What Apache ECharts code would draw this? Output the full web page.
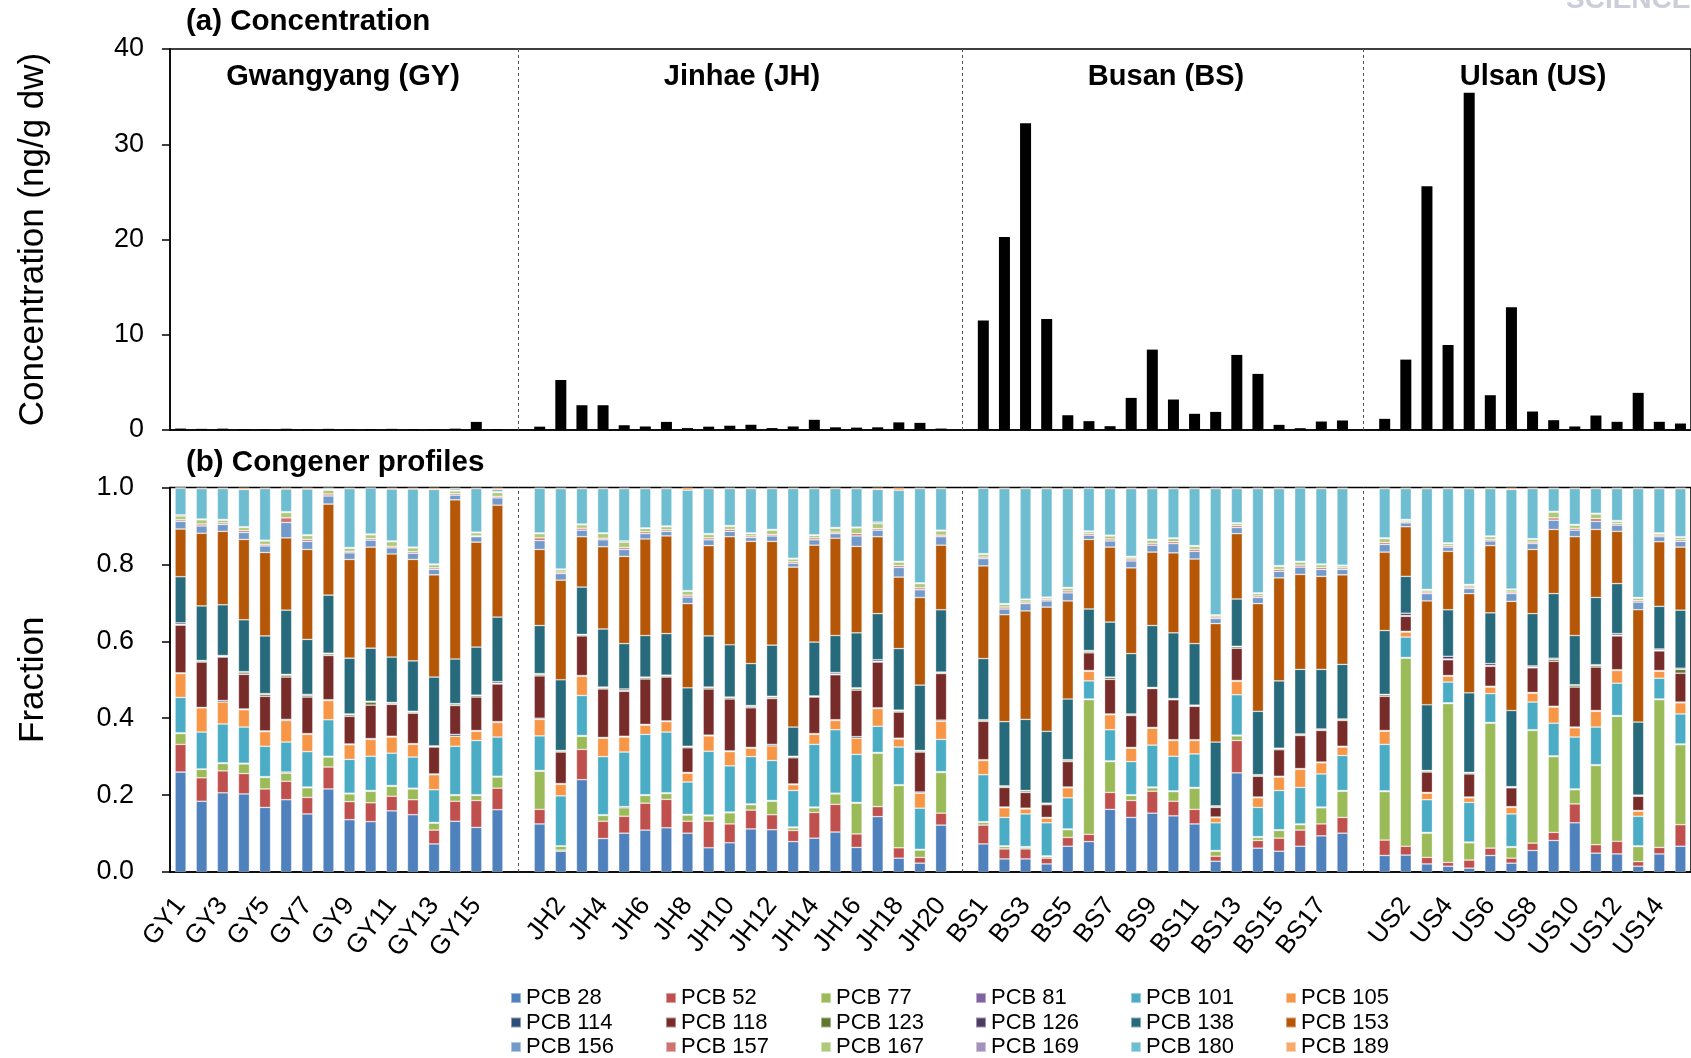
<!DOCTYPE html>
<html>
<head>
<meta charset="utf-8">
<script src="https://cdn.jsdelivr.net/npm/echarts@6/dist/echarts.min.js"></script>
<style>
html,body{margin:0;padding:0;background:#fff;}
#chart{width:1691px;height:1058px;}
</style>
</head>
<body>
<div id="chart"></div>
<script>
// ---- Site names ----
const sitesGY = ['GY1','GY2','GY3','GY4','GY5','GY6','GY7','GY8','GY9','GY10','GY11','GY12','GY13','GY14','GY15','GY16'];
const sitesJH = ['JH1','JH2','JH3','JH4','JH5','JH6','JH7','JH8','JH9','JH10','JH11','JH12','JH13','JH14','JH15','JH16','JH17','JH18','JH19','JH20'];
const sitesBS = ['BS1','BS2','BS3','BS4','BS5','BS6','BS7','BS8','BS9','BS10','BS11','BS12','BS13','BS14','BS15','BS16','BS17','BS18'];
const sitesUS = ['US1','US2','US3','US4','US5','US6','US7','US8','US9','US10','US11','US12','US13','US14','US15'];

// ---- (a) total concentration, ng/g dw ----
const concGY = [0.15,0.12,0.14,0.10,0.10,0.13,0.10,0.12,0.10,0.10,0.12,0.10,0.10,0.14,0.85,0.10];
const concJH = [0.35,5.25,2.6,2.6,0.5,0.37,0.85,0.2,0.35,0.45,0.55,0.2,0.37,1.07,0.28,0.25,0.28,0.8,0.75,0.15];
const concBS = [11.5,20.25,32.2,11.65,1.55,0.93,0.4,3.37,8.44,3.2,1.7,1.9,7.88,5.89,0.54,0.19,0.89,1.0];
const concUS = [1.17,7.39,25.6,8.93,35.4,3.65,12.9,1.94,1.03,0.37,1.52,0.86,3.9,0.86,0.68];

// ---- (b) congener fractions, one row per site, columns in congener order ----
const congeners = ['PCB 28','PCB 52','PCB 77','PCB 81','PCB 101','PCB 105','PCB 114','PCB 118','PCB 123','PCB 126','PCB 138','PCB 153','PCB 156','PCB 157','PCB 167','PCB 169','PCB 180','PCB 189'];
const congenerColors = ['#4F81BD','#C0504D','#9BBB59','#8064A2','#4BACC6','#F79646','#2C4D75','#772C2A','#5F7530','#4D3B62','#276A7C','#B65708','#729ACA','#CD7371','#AFC97A','#A491BC','#6FBDD1','#F9AB6B'];

const profileGY = [
 [.260,.072,.028,.002,.092,.062,.002,.124,.002,.004,.120,.124,.020,.004,.010,.003,.069,.003],
 [.184,.061,.022,.001,.096,.063,.001,.118,.003,.001,.142,.189,.019,.005,.011,.002,.079,.003],
 [.206,.057,.019,.002,.101,.057,.004,.113,.002,.002,.132,.191,.018,.004,.007,.002,.080,.003],
 [.203,.053,.025,.002,.094,.045,.002,.090,.004,.003,.135,.209,.018,.005,.008,.002,.097,.005],
 [.168,.048,.030,.002,.079,.038,.002,.090,.005,.002,.150,.217,.017,.004,.009,.002,.134,.003],
 [.188,.048,.021,.003,.078,.056,.003,.110,.005,.002,.167,.188,.040,.012,.014,.002,.059,.004],
 [.151,.043,.025,.002,.092,.045,.002,.095,.004,.003,.143,.234,.021,.005,.010,.002,.119,.004],
 [.216,.057,.026,.002,.095,.050,.002,.115,.004,.002,.151,.237,.021,.005,.010,.002,.003,.002],
 [.136,.047,.020,.002,.088,.038,.002,.072,.004,.002,.145,.257,.017,.004,.008,.002,.153,.003],
 [.131,.049,.030,.002,.089,.044,.002,.087,.008,.002,.138,.263,.018,.004,.010,.002,.120,.001],
 [.159,.038,.026,.002,.084,.042,.002,.083,.003,.002,.118,.268,.016,.004,.012,.002,.135,.004],
 [.149,.039,.028,.002,.081,.033,.002,.079,.003,.002,.131,.264,.016,.004,.010,.002,.151,.004],
 [.073,.036,.018,.002,.085,.039,.002,.070,.002,.001,.179,.266,.014,.004,.008,.002,.194,.005],
 [.132,.052,.015,.002,.126,.026,.005,.075,.004,.001,.116,.414,.012,.004,.007,.002,.004,.003],
 [.116,.070,.013,.002,.141,.024,.002,.087,.004,.001,.125,.273,.014,.002,.008,.002,.113,.003],
 [.162,.056,.029,.002,.102,.038,.002,.098,.002,.004,.168,.291,.019,.004,.010,.002,.006,.005]
];
const profileJH = [
 [.125,.038,.099,.002,.090,.043,.003,.110,.004,.002,.125,.198,.023,.007,.011,.002,.116,.002],
 [.054,.003,.010,.001,.130,.030,.002,.082,.003,.001,.184,.259,.017,.004,.006,.002,.209,.003],
 [.240,.079,.034,.002,.104,.050,.002,.103,.003,.001,.123,.131,.017,.005,.009,.002,.092,.003],
 [.087,.045,.015,.002,.151,.048,.002,.126,.003,.002,.151,.214,.018,.004,.012,.002,.115,.003],
 [.101,.044,.022,.003,.142,.039,.002,.117,.002,.004,.118,.227,.018,.005,.014,.003,.136,.003],
 [.109,.070,.020,.002,.157,.024,.002,.118,.004,.001,.108,.251,.014,.005,.008,.002,.102,.003],
 [.115,.074,.015,.002,.158,.027,.002,.114,.003,.002,.108,.254,.012,.004,.008,.002,.097,.003],
 [.101,.031,.016,.002,.084,.023,.002,.064,.003,.001,.152,.219,.017,.005,.010,.002,.261,.007],
 [.063,.069,.014,.002,.166,.040,.002,.120,.004,.001,.133,.235,.015,.005,.009,.002,.117,.003],
 [.076,.049,.029,.002,.120,.037,.002,.135,.004,.001,.136,.281,.014,.005,.008,.002,.096,.003],
 [.112,.049,.014,.002,.123,.022,.002,.103,.004,.002,.109,.318,.010,.004,.006,.002,.115,.003],
 [.110,.039,.035,.002,.104,.038,.004,.119,.004,.002,.133,.270,.014,.004,.011,.002,.106,.003],
 [.079,.029,.007,.002,.095,.015,.002,.068,.003,.001,.076,.416,.010,.004,.007,.002,.181,.003],
 [.088,.067,.012,.002,.163,.026,.002,.095,.002,.001,.140,.252,.014,.005,.006,.002,.120,.003],
 [.104,.072,.027,.002,.165,.024,.002,.117,.002,.004,.096,.253,.012,.004,.010,.002,.101,.003],
 [.064,.035,.080,.002,.125,.042,.004,.121,.004,.002,.143,.225,.027,.006,.015,.002,.100,.003],
 [.144,.026,.139,.002,.068,.046,.002,.119,.002,.004,.120,.200,.017,.004,.013,.004,.085,.005],
 [.036,.027,.162,.002,.098,.021,.002,.068,.003,.002,.160,.186,.025,.005,.009,.002,.185,.007],
 [.023,.015,.019,.002,.107,.039,.003,.104,.003,.001,.170,.228,.020,.005,.011,.002,.245,.003],
 [.122,.031,.106,.002,.084,.047,.003,.121,.003,.001,.162,.168,.022,.004,.011,.002,.108,.003]
];
const profileBS = [
 [.073,.049,.007,.002,.122,.037,.002,.100,.003,.001,.159,.241,.019,.004,.007,.002,.170,.002],
 [.034,.026,.006,.002,.074,.025,.002,.051,.003,.001,.167,.278,.015,.005,.007,.002,.299,.003],
 [.034,.026,.004,.002,.085,.013,.002,.041,.004,.001,.185,.282,.019,.004,.006,.002,.287,.003],
 [.021,.015,.004,.002,.086,.012,.002,.033,.003,.001,.187,.323,.016,.004,.004,.002,.282,.003],
 [.067,.023,.020,.002,.081,.026,.002,.066,.004,.001,.158,.255,.021,.005,.007,.002,.257,.003],
 [.079,.019,.350,.002,.047,.025,.002,.046,.004,.002,.108,.181,.011,.004,.005,.002,.111,.002],
 [.163,.044,.080,.002,.081,.039,.002,.090,.005,.001,.143,.195,.016,.005,.008,.002,.121,.003],
 [.142,.044,.013,.002,.086,.035,.002,.083,.003,.001,.157,.223,.018,.005,.005,.002,.176,.003],
 [.153,.057,.009,.002,.109,.044,.002,.101,.002,.001,.161,.191,.018,.005,.008,.002,.132,.003],
 [.146,.038,.025,.002,.090,.041,.002,.104,.002,.001,.171,.208,.024,.005,.008,.002,.128,.003],
 [.125,.038,.055,.002,.087,.035,.002,.087,.002,.001,.160,.220,.020,.005,.008,.002,.148,.003],
 [.028,.013,.013,.002,.072,.013,.002,.025,.003,.001,.166,.308,.013,.004,.004,.002,.328,.003],
 [.258,.084,.012,.002,.105,.035,.002,.084,.004,.001,.123,.170,.016,.005,.005,.002,.089,.003],
 [.062,.020,.008,.002,.076,.025,.002,.054,.003,.001,.165,.280,.016,.004,.006,.002,.271,.003],
 [.054,.034,.020,.002,.102,.035,.002,.069,.003,.001,.175,.268,.017,.005,.008,.002,.200,.003],
 [.067,.042,.014,.002,.095,.047,.002,.086,.003,.001,.168,.247,.019,.005,.008,.002,.191,.001],
 [.094,.031,.042,.002,.086,.029,.002,.082,.003,.001,.155,.242,.018,.005,.007,.002,.196,.003],
 [.101,.041,.068,.002,.091,.022,.002,.067,.003,.001,.142,.233,.014,.004,.005,.002,.199,.003]
];
const profileUS = [
 [.043,.040,.126,.002,.121,.034,.002,.089,.004,.001,.166,.204,.020,.005,.010,.002,.128,.003],
 [.044,.023,.489,.002,.053,.013,.002,.039,.002,.006,.096,.129,.010,.003,.004,.002,.080,.003],
 [.021,.017,.063,.002,.085,.017,.002,.053,.003,.001,.171,.270,.019,.004,.005,.002,.262,.003],
 [.015,.010,.413,.002,.054,.015,.002,.041,.002,.007,.121,.152,.011,.004,.005,.002,.141,.003],
 [.010,.021,.045,.002,.103,.012,.002,.060,.003,.001,.207,.258,.013,.004,.005,.002,.249,.003],
 [.043,.019,.325,.002,.075,.017,.002,.052,.002,.005,.132,.175,.012,.004,.007,.002,.123,.003],
 [.023,.013,.028,.002,.085,.017,.002,.049,.002,.001,.198,.284,.020,.004,.006,.002,.259,.005],
 [.056,.019,.293,.002,.072,.023,.002,.064,.002,.003,.136,.167,.015,.004,.007,.002,.130,.003],
 [.082,.021,.197,.002,.085,.042,.002,.117,.005,.003,.168,.167,.024,.006,.015,.002,.059,.003],
 [.128,.049,.037,.002,.135,.024,.002,.104,.005,.001,.128,.257,.017,.005,.008,.002,.093,.003],
 [.049,.022,.206,.002,.098,.041,.002,.113,.004,.002,.175,.177,.021,.007,.012,.002,.064,.003],
 [.047,.033,.325,.002,.084,.033,.002,.088,.002,.004,.130,.136,.016,.004,.006,.002,.083,.003],
 [.015,.012,.039,.002,.077,.013,.002,.037,.002,.001,.190,.292,.020,.004,.006,.002,.283,.003],
 [.047,.017,.384,.002,.054,.018,.002,.051,.002,.003,.111,.168,.013,.004,.004,.002,.115,.003],
 [.067,.056,.208,.002,.078,.029,.002,.075,.010,.003,.151,.164,.015,.004,.006,.002,.125,.003]
];

// ---- build category table with an empty slot between regions ----
const categories = [...sitesGY, ' ', ...sitesJH, '  ', ...sitesBS, '   ', ...sitesUS];
const gapIdx = [sitesGY.length, sitesGY.length + 1 + sitesJH.length, sitesGY.length + sitesJH.length + sitesBS.length + 2];
const concData = [...concGY, null, ...concJH, null, ...concBS, null, ...concUS];
function column(k) {
  const f = r => r[k];
  return [...profileGY.map(f), null, ...profileJH.map(f), null, ...profileBS.map(f), null, ...profileUS.map(f)];
}

const FONT = 'Liberation Sans, Arial, sans-serif';
const chart = echarts.init(document.getElementById('chart'), null, {renderer: 'canvas'});

const axisLineStyle = {color: '#000', width: 1.5};
const dashLine = {
  silent: true, symbol: ['none', 'none'], label: {show: false},
  lineStyle: {type: [3, 3], color: '#555', width: 1},
  data: gapIdx.map(i => ({xAxis: i}))
};

const profileSeries = congeners.map((name, k) => ({
  name: name, type: 'bar', stack: 'profile', xAxisIndex: 1, yAxisIndex: 1,
  barWidth: 11, data: column(k),
  itemStyle: {color: congenerColors[k], borderColor: 'rgba(255,255,255,0.45)', borderWidth: 0.7},
  markLine: k === 0 ? dashLine : undefined
}));

const legends = [0,1,2,3,4,5].map(i => ({
  orient: 'vertical', left: 510 + i * 155, top: 987, height: 90, padding: 0,
  icon: 'rect', itemWidth: 10, itemHeight: 10, itemGap: 2.5,
  data: [congeners[i], congeners[i + 6], congeners[i + 12]],
  textStyle: {fontSize: 22, fontFamily: FONT, color: '#000', lineHeight: 22}
}));

const option = {
  animation: false,
  backgroundColor: '#fff',
  legend: legends,
  grid: [
    {left: 170, top: 49, width: 1526, height: 381, show: true, borderColor: '#000', borderWidth: 1.5, backgroundColor: 'transparent'},
    {left: 170, top: 487.5, width: 1526, height: 384.5, show: true, borderColor: '#000', borderWidth: 1.5, backgroundColor: 'transparent'}
  ],
  xAxis: [
    {gridIndex: 0, type: 'category', data: categories, boundaryGap: true,
     axisLine: {lineStyle: axisLineStyle}, axisTick: {interval: 0, length: 6, lineStyle: axisLineStyle},
     axisLabel: {show: false}, splitLine: {show: false}},
    {gridIndex: 1, type: 'category', data: categories, boundaryGap: true,
     axisLine: {lineStyle: axisLineStyle}, axisTick: {interval: 0, length: 8, lineStyle: axisLineStyle},
     axisLabel: {interval: 1, rotate: 52, fontSize: 26, fontFamily: FONT, color: '#000', margin: 29},
     splitLine: {show: false}}
  ],
  yAxis: [
    {gridIndex: 0, type: 'value', min: 0, max: 40, interval: 10,
     name: 'Concentration (ng/g dw)', nameLocation: 'middle', nameGap: 119,
     nameTextStyle: {fontSize: 35, fontFamily: FONT, color: '#000'},
     axisLine: {show: true, lineStyle: axisLineStyle}, axisTick: {show: true, length: 8, lineStyle: axisLineStyle},
     axisLabel: {fontSize: 27, fontFamily: FONT, color: '#000', margin: 26}, splitLine: {show: false}},
    {gridIndex: 1, type: 'value', min: 0, max: 1, interval: 0.2,
     name: 'Fraction', nameLocation: 'middle', nameGap: 119,
     nameTextStyle: {fontSize: 35, fontFamily: FONT, color: '#000'},
     axisLine: {show: true, lineStyle: axisLineStyle}, axisTick: {show: true, length: 8, lineStyle: axisLineStyle},
     axisLabel: {fontSize: 27, fontFamily: FONT, color: '#000', margin: 36, formatter: v => v.toFixed(1)},
     splitLine: {show: false}}
  ],
  graphic: [
    {type: 'text', left: 186, top: 7, style: {text: '(a) Concentration', font: 'bold 29.5px ' + FONT, fill: '#000'}},
    {type: 'text', left: 186, top: 448, style: {text: '(b) Congener profiles', font: 'bold 29.5px ' + FONT, fill: '#000'}},
    {type: 'text', x: 343, y: 77, style: {text: 'Gwangyang (GY)', font: 'bold 29px ' + FONT, fill: '#000', align: 'center', verticalAlign: 'middle'}},
    {type: 'text', x: 742, y: 77, style: {text: 'Jinhae (JH)', font: 'bold 29px ' + FONT, fill: '#000', align: 'center', verticalAlign: 'middle'}},
    {type: 'text', x: 1166, y: 77, style: {text: 'Busan (BS)', font: 'bold 29px ' + FONT, fill: '#000', align: 'center', verticalAlign: 'middle'}},
    {type: 'text', x: 1533, y: 77, style: {text: 'Ulsan (US)', font: 'bold 29px ' + FONT, fill: '#000', align: 'center', verticalAlign: 'middle'}},
    {type: 'text', x: 1566, y: 14, style: {text: 'SCIENCE', font: 'bold 28px ' + FONT, fill: '#c9ced9', verticalAlign: 'bottom'}}
  ],
  series: [
    {name: 'Concentration', type: 'bar', xAxisIndex: 0, yAxisIndex: 0, barWidth: 11,
     data: concData, itemStyle: {color: '#000'}, markLine: dashLine},
    ...profileSeries
  ]
};
chart.setOption(option);
</script>
</body>
</html>
